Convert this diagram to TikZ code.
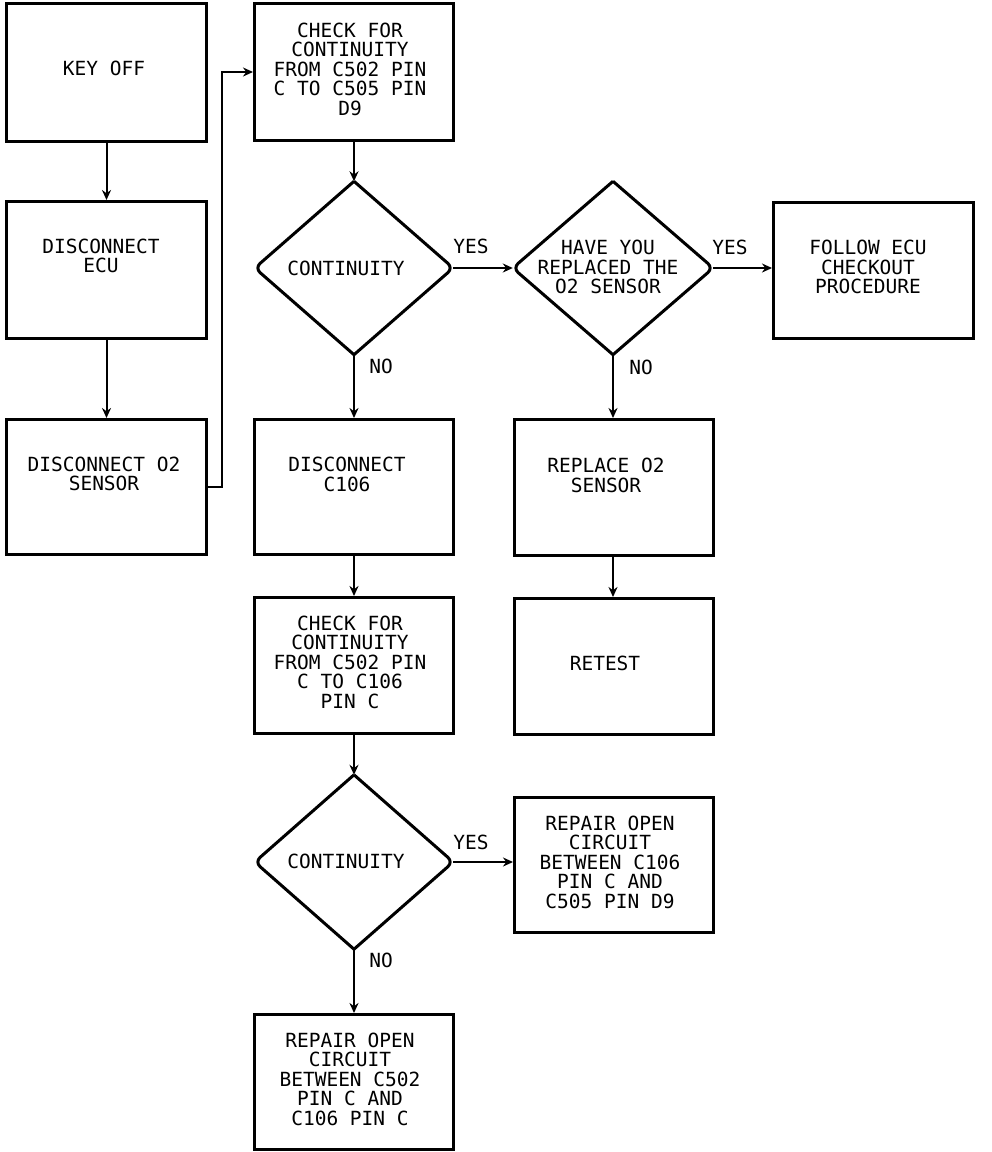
\documentclass[tikz,border=0pt]{standalone}
\usepackage{fontspec}
\setmonofont{DejaVu Sans Mono}
\usetikzlibrary{arrows.meta,shapes.geometric}
\begin{document}
\begin{tikzpicture}[x=1pt,y=-1pt,
  box/.style={draw, line width=3pt, inner sep=0pt, anchor=north west},
  dia/.style={shape=diamond, inner sep=0pt},
  diaedge/.style={line width=3pt, rounded corners=7pt},
  txt/.style={font=\ttfamily\fontsize{19.5}{19.5}\selectfont, align=center, inner sep=0pt},
  conn/.style={line width=2pt, -{Stealth[length=10pt,width=9pt]}}]
\useasboundingbox (0,0) rectangle (992,1152);

% boxes
\node[box, minimum width=200pt, minimum height=138pt] (keyoff) at (5,2) {};
\node[box, minimum width=200pt, minimum height=137pt] (ecu) at (5,200) {};
\node[box, minimum width=200pt, minimum height=135pt] (o2) at (5,418) {};
\node[box, minimum width=199pt, minimum height=137pt] (chk1) at (253,2) {};
\node[box, minimum width=199pt, minimum height=135pt] (c106) at (253,418) {};
\node[box, minimum width=199pt, minimum height=136pt] (chk2) at (253,596) {};
\node[box, minimum width=199pt, minimum height=135pt] (rep2) at (253,1013) {};
\node[box, minimum width=200pt, minimum height=136pt] (follow) at (772,201) {};
\node[box, minimum width=199pt, minimum height=136pt] (replace) at (513,418) {};
\node[box, minimum width=199pt, minimum height=136pt] (retest) at (513,597) {};
\node[box, minimum width=199pt, minimum height=135pt] (rep1) at (513,796) {};

% diamonds
\node[dia, minimum width=198pt, minimum height=173pt] (d1) at (354,268) {};
\node[dia, minimum width=200pt, minimum height=173pt] (d3) at (613,268) {};
\node[dia, minimum width=198pt, minimum height=174pt] (d2) at (354,862) {};
\foreach \d in {d1,d2,d3}{
  \draw[diaedge] (\d.north) -- (\d.east) -- (\d.south);
  \draw[diaedge] (\d.north) -- (\d.west) -- (\d.south);
}

% texts
\node[txt] (t-keyoff) at (104,68) {KEY OFF};
\node[txt] (t-ecu) at (101,256) {DISCONNECT\\ECU};
\node[txt] (t-o2) at (104,474) {DISCONNECT O2\\SENSOR};
\node[txt] (t-chk1) at (350,69) {CHECK FOR\\CONTINUITY\\FROM C502 PIN\\C TO C505 PIN\\D9};
\node[txt] (t-d1) at (346,268) {CONTINUITY};
\node[txt] (t-d3) at (608,267) {HAVE YOU\\REPLACED THE\\O2 SENSOR};
\node[txt] (t-follow) at (868,267) {FOLLOW ECU\\CHECKOUT\\PROCEDURE};
\node[txt] (t-c106) at (347,474.5) {DISCONNECT\\C106};
\node[txt] (t-replace) at (606,475.5) {REPLACE O2\\SENSOR};
\node[txt] (t-chk2) at (350,662) {CHECK FOR\\CONTINUITY\\FROM C502 PIN\\C TO C106\\PIN C};
\node[txt] (t-retest) at (605,663) {RETEST};
\node[txt] (t-d2) at (346,861) {CONTINUITY};
\node[txt] (t-rep1) at (610,862) {REPAIR OPEN\\CIRCUIT\\BETWEEN C106\\PIN C AND\\C505 PIN D9};
\node[txt] (t-rep2) at (350,1079) {REPAIR OPEN\\CIRCUIT\\BETWEEN C502\\PIN C AND\\C106 PIN C};

% connector labels
\node[txt] (l1) at (471,246) {YES};
\node[txt] (l2) at (381,366) {NO};
\node[txt] (l3) at (730,247) {YES};
\node[txt] (l4) at (641,367) {NO};
\node[txt] (l5) at (471,842) {YES};
\node[txt] (l6) at (381,960) {NO};

% connectors
\coordinate (bend) at (222,0);
\draw[conn] (keyoff.south) -- (ecu.north);
\draw[conn] (ecu.south) -- (o2.north);
\draw[conn] (o2.east) -| (bend |- chk1.west) -- (chk1.west);
\draw[conn] (chk1.south -| d1.north) -- (d1.north);
\draw[conn] (d1.east) -- (d3.west);
\draw[conn] (d3.east) -- (follow.west |- d3.east);
\draw[conn] (d1.south) -- (c106.north -| d1.south);
\draw[conn] (d3.south) -- (replace.north -| d3.south);
\draw[conn] (c106.south -| d1.south) -- (chk2.north -| d1.south);
\draw[conn] (replace.south -| d3.south) -- (retest.north -| d3.south);
\draw[conn] (chk2.south -| d2.north) -- (d2.north);
\draw[conn] (d2.east) -- (rep1.west |- d2.east);
\draw[conn] (d2.south) -- (rep2.north -| d2.south);
\end{tikzpicture}
\end{document}
